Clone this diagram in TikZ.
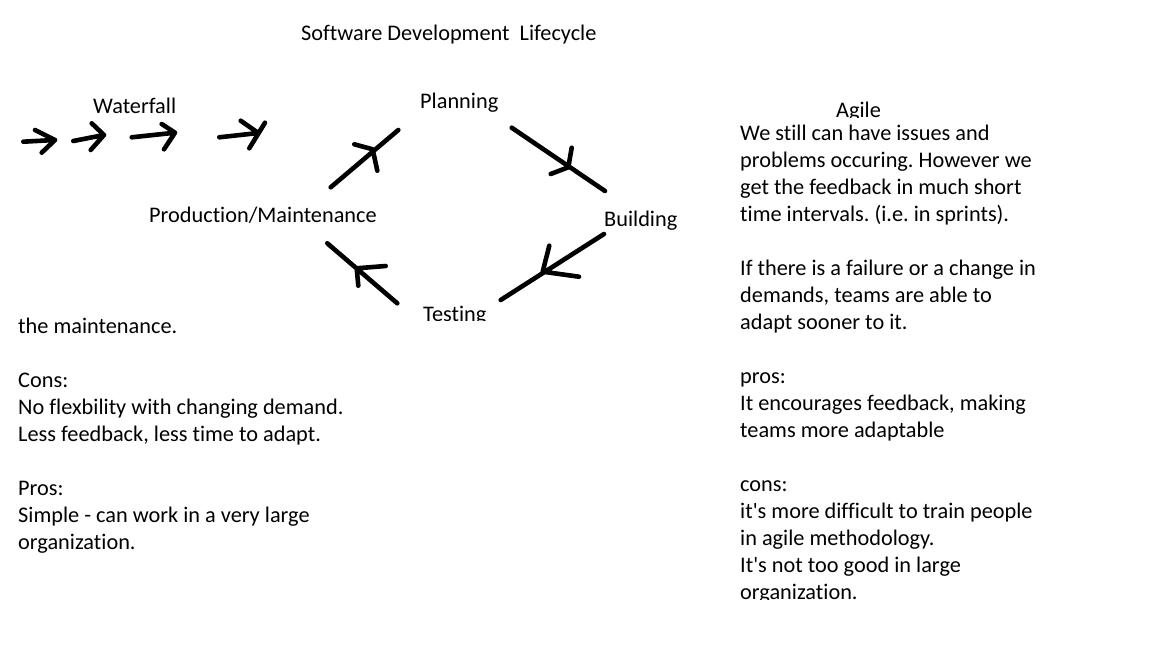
\documentclass[tikz,border=0pt]{standalone}
\usepackage{fontspec}
\setmainfont{Carlito}[Ligatures={NoCommon}]
\frenchspacing
\begin{document}
\begin{tikzpicture}[x=1pt,y=-1pt,
  txt/.style={anchor=base west, inner sep=0pt, font=\fontsize{22.3}{27}\selectfont},
  stroke/.style={draw=black, line width=4.6pt, line cap=round, line join=round}]
\useasboundingbox (0,0) rectangle (1152,648);
\fill[white] (0,0) rectangle (1152,648);

% headings and stage labels
\node[txt] (title) at (301,40) {Software Development~ Lifecycle};
\node[txt] (waterfall) at (93,113) {Waterfall};
\node[txt] (planning) at (420,108) {Planning};
\node[txt] (prod) at (149,222) {Production/Maintenance};
\node[txt] (building) at (604,226) {Building};
\begin{scope}
  \clip (820,90) rectangle (920,117);
  \node[txt] (agile) at (836,117) {Agile};
\end{scope}
\begin{scope}
  \clip (410,290) rectangle (520,320);
  \node[txt] (testing) at (423,321) {Testing};
\end{scope}

% left text block
\foreach \t [count=\i from 0] in {{the maintenance.},{},{Cons:},{No flexbility with changing demand.},{Less feedback, less time to adapt.},{},{Pros:},{Simple - can work in a very large},{organization.}}
  \node[txt] (L\i) at (18,333+27*\i) {\t};

% right text block
\begin{scope}
  \clip (730,120) rectangle (1100,599);
  \foreach \t [count=\i from 0] in {{We still can have issues and},{problems occuring. However we},{get the feedback in much short},{time intervals. (i.e. in sprints).},{},{If there is a failure or a change in},{demands, teams are able to},{adapt sooner to it.},{},{},{pros:},{It encourages feedback, making},{teams more adaptable},{},{cons:},{it\textquotesingle s more difficult to train people},{in agile methodology.},{It\textquotesingle s not too good in large},{organization.}}
    \node[txt] (R\i) at (740,140+27*\i-27*\ifnum\i>8 1\else 0\fi) {\t};
\end{scope}

% waterfall arrows
\coordinate (w1a) at (23.3,141.7); \coordinate (w1b) at (55,140);
\coordinate (w1c) at (35,130); \coordinate (w1d) at (41.7,152.7);
\coordinate (w2a) at (73.3,141); \coordinate (w2b) at (104,135);
\coordinate (w2c) at (91.7,123.3); \coordinate (w2d) at (90.7,150);
\coordinate (w3a) at (131.7,137.3); \coordinate (w3b) at (175,132.7);
\coordinate (w3c) at (161.7,124); \coordinate (w3d) at (164,149.3);
\coordinate (w4a) at (219.3,137.3); \coordinate (w4b) at (258.3,133);
\coordinate (w4c) at (240.7,120.7); \coordinate (w4e) at (265,122.7); \coordinate (w4d) at (249.3,148.3);
\draw[stroke] (w1a) -- (w1b) (w1c) -- (w1b) -- (w1d);
\draw[stroke] (w2a) -- (w2b) (w2c) -- (w2b) -- (w2d);
\draw[stroke] (w3a) -- (w3b) (w3c) -- (w3b) -- (w3d);
\draw[stroke] (w4a) -- (w4b) (w4c) -- (w4b) (w4e) -- (w4d);

% cycle arrows
\coordinate (c1a) at (330.7,187.3); \coordinate (c1b) at (398.3,130);
\coordinate (c1h) at (372.7,149.3); \coordinate (c1l) at (354.3,144.3); \coordinate (c1r) at (377.3,170.7);
\coordinate (c2a) at (511.7,127.7); \coordinate (c2b) at (605,191);
\coordinate (c2h) at (568.3,167.3); \coordinate (c2l) at (571.7,147.7); \coordinate (c2r) at (550.7,174);
\coordinate (c3a) at (604,234); \coordinate (c3b) at (500.7,300);
\coordinate (c3h) at (542.7,271.7); \coordinate (c3l) at (549.3,245.7); \coordinate (c3r) at (579,276.7);
\coordinate (c4a) at (397.3,303.3); \coordinate (c4b) at (327.3,243.3);
\coordinate (c4h) at (356.7,268.3); \coordinate (c4l) at (385.7,266); \coordinate (c4r) at (358.3,285.7);
\draw[stroke] (c1a) -- (c1b) (c1l) -- (c1h) -- (c1r);
\draw[stroke] (c2a) -- (c2b) (c2l) -- (c2h) -- (c2r);
\draw[stroke] (c3a) -- (c3b) (c3l) -- (c3h) -- (c3r);
\draw[stroke] (c4a) -- (c4b) (c4l) -- (c4h) -- (c4r);
\end{tikzpicture}
\end{document}
